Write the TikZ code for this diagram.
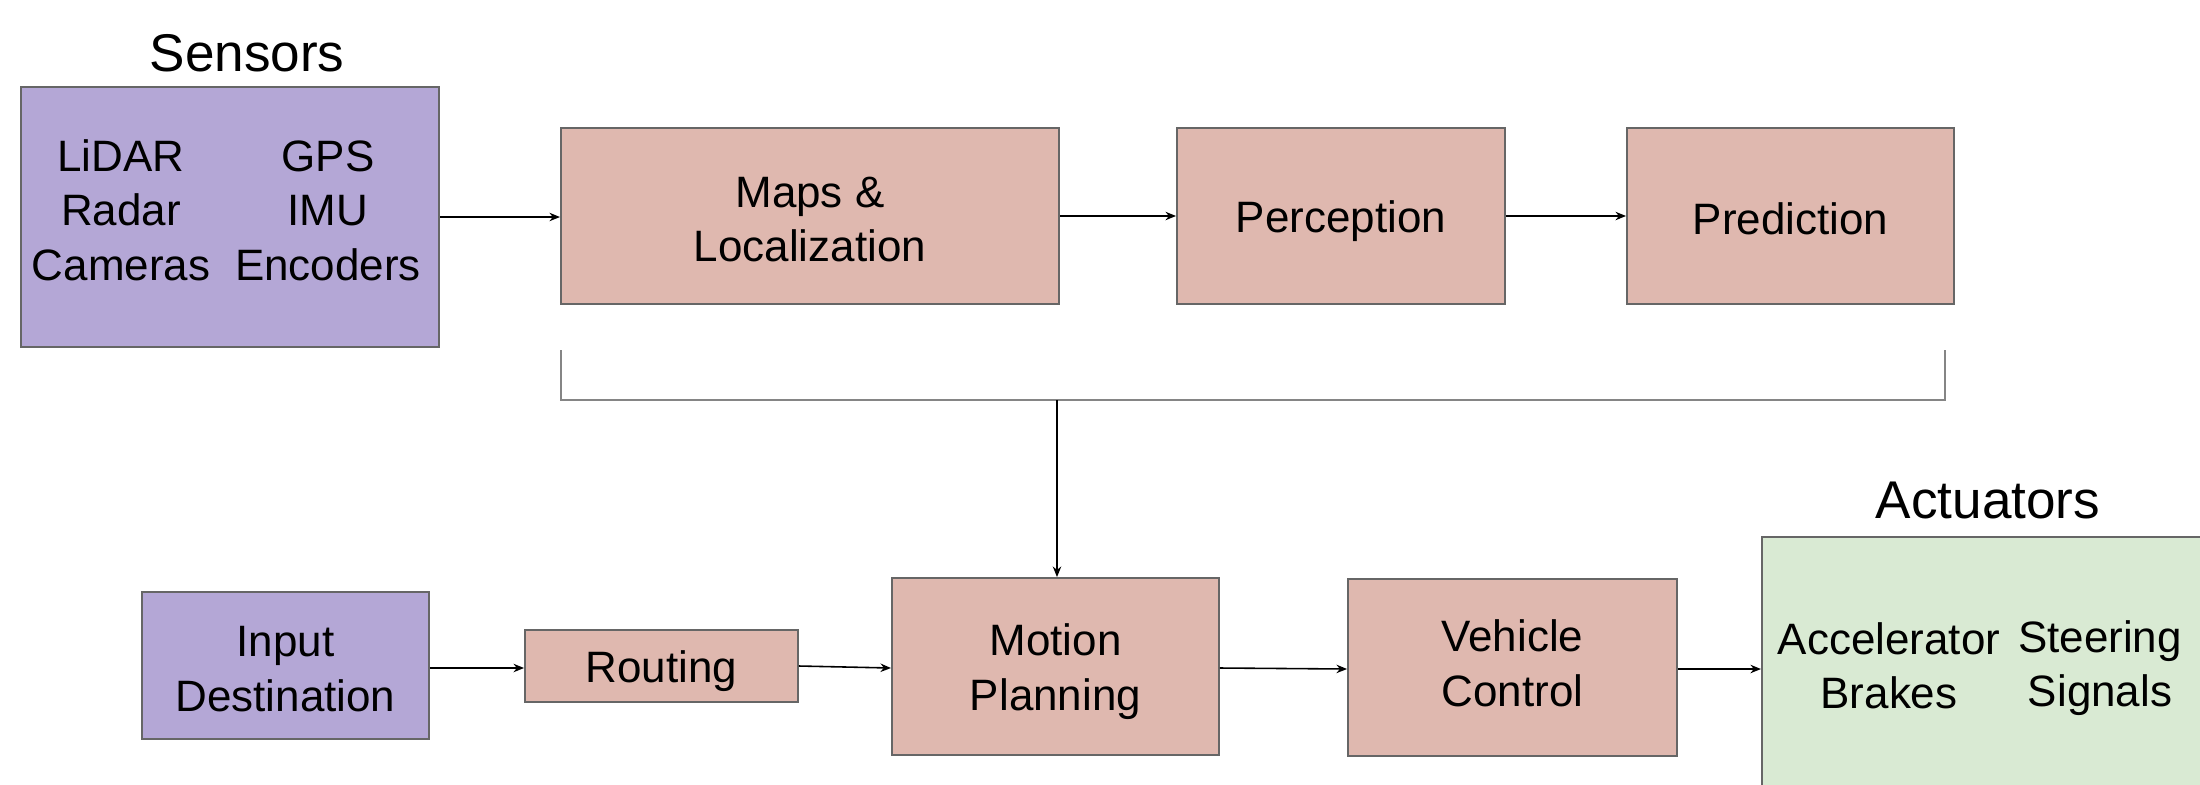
\documentclass[tikz,border=0pt]{standalone}
\usepackage{fontspec}
\setmainfont{Liberation Sans}
\usetikzlibrary{arrows.meta}
\definecolor{sensorfill}{HTML}{B4A7D6}
\definecolor{stagefill}{HTML}{DFB8AF}
\definecolor{actfill}{HTML}{D9EAD3}
\definecolor{edgegray}{HTML}{666666}
\definecolor{bracketgray}{HTML}{858585}
% every text line gets the same height and depth, so labels centre alike
\newcommand{\boxline}[1]{\rule[-0.1em]{0pt}{1.05em}#1}
\begin{document}
\begin{tikzpicture}[x=0.01cm, y=-0.01cm,
  box/.style={draw=edgegray, line width=0.5pt, inner sep=0pt, align=center,
    font=\fontsize{12.5}{15.5}\selectfont},
  purplebox/.style={box, fill=sensorfill},
  stagebox/.style={box, fill=stagefill},
  greenbox/.style={box, fill=actfill},
  label/.style={inner sep=0pt, align=center, font=\fontsize{12.5}{15.5}\selectfont},
  title/.style={inner sep=0pt, anchor=base, font=\fontsize{15.1}{18}\selectfont},
  conn/.style={draw=black, line width=0.45pt, -{Stealth[length=3pt,width=2.4pt]}},
  bracket/.style={draw=bracketgray, line width=0.55pt}]
  \clip (0,0) rectangle (2200,784);
  \fill[white] (0,0) rectangle (2200,784);

  % titles
  \node[title] (sensorsTitle) at (247,71) {Sensors};
  \node[title] (actTitle) at (1988,518) {Actuators};

  % upper row
  \node[purplebox, minimum width=4.18cm, minimum height=2.60cm] (sensors) at (230,217) {};
  \node[label] (sensA) at (121,207) {\boxline{LiDAR}\\\boxline{Radar}\\\boxline{Cameras}};
  \node[label] (sensB) at (328,207) {\boxline{GPS}\\\boxline{IMU}\\\boxline{Encoders}};
  \node[stagebox, minimum width=4.98cm, minimum height=1.76cm] (maps) at (810,216)
    {\boxline{Maps \&}\\\boxline{Localization}};
  \node[stagebox, minimum width=3.28cm, minimum height=1.76cm] (percep) at (1341,216) {\boxline{Perception}};
  \node[stagebox, minimum width=3.27cm, minimum height=1.76cm] (pred) at (1790.5,216) {\boxline{Prediction}};

  % lower row
  \node[purplebox, minimum width=2.87cm, minimum height=1.47cm] (input) at (285.5,665.5)
    {\boxline{Input}\\\boxline{Destination}};
  \node[stagebox, minimum width=2.73cm, minimum height=0.72cm] (routing) at (661.5,666) {\boxline{Routing}};
  \node[stagebox, minimum width=3.27cm, minimum height=1.77cm] (motion) at (1055.5,666.5)
    {\boxline{Motion}\\\boxline{Planning}};
  \node[stagebox, minimum width=3.29cm, minimum height=1.77cm] (vehicle) at (1512.5,667.5)
    {\rule[-0.2em]{0pt}{0.9em}Vehicle\\\rule[-0.2em]{0pt}{0.9em}Control};
  \node[greenbox, minimum width=4.98cm, minimum height=3.13cm] (act) at (2011,693.5) {};
  \node[label] (actA) at (1889,663) {\boxline{Accelerator}\\\boxline{Brakes}};
  \node[label] (actB) at (2100,663) {\boxline{Steering}\\\boxline{Signals}};

  % bracket collecting the upper row
  \coordinate (bl) at (561,350);
  \coordinate (br) at (1945,350);
  \coordinate (bm) at (1057,400);
  \draw[bracket] (bl) -- (bl |- bm) -- (br |- bm) -- (br);

  % connectors
  \draw[conn] (sensors.east |- 0,217) -- (maps.west |- 0,217);
  \draw[conn] (maps.east) -- (percep.west);
  \draw[conn] (percep.east) -- (pred.west);
  \draw[conn] (bm) -- (bm |- motion.north);
  \draw[conn] (input.east |- 0,668) -- (routing.west |- 0,668);
  \draw[conn] (routing.east) -- (motion.west |- 0,668);
  \draw[conn] (motion.east |- 0,668) -- (vehicle.west |- 0,669);
  \draw[conn] (vehicle.east |- 0,669) -- (act.west |- 0,669);
\end{tikzpicture}
\end{document}
